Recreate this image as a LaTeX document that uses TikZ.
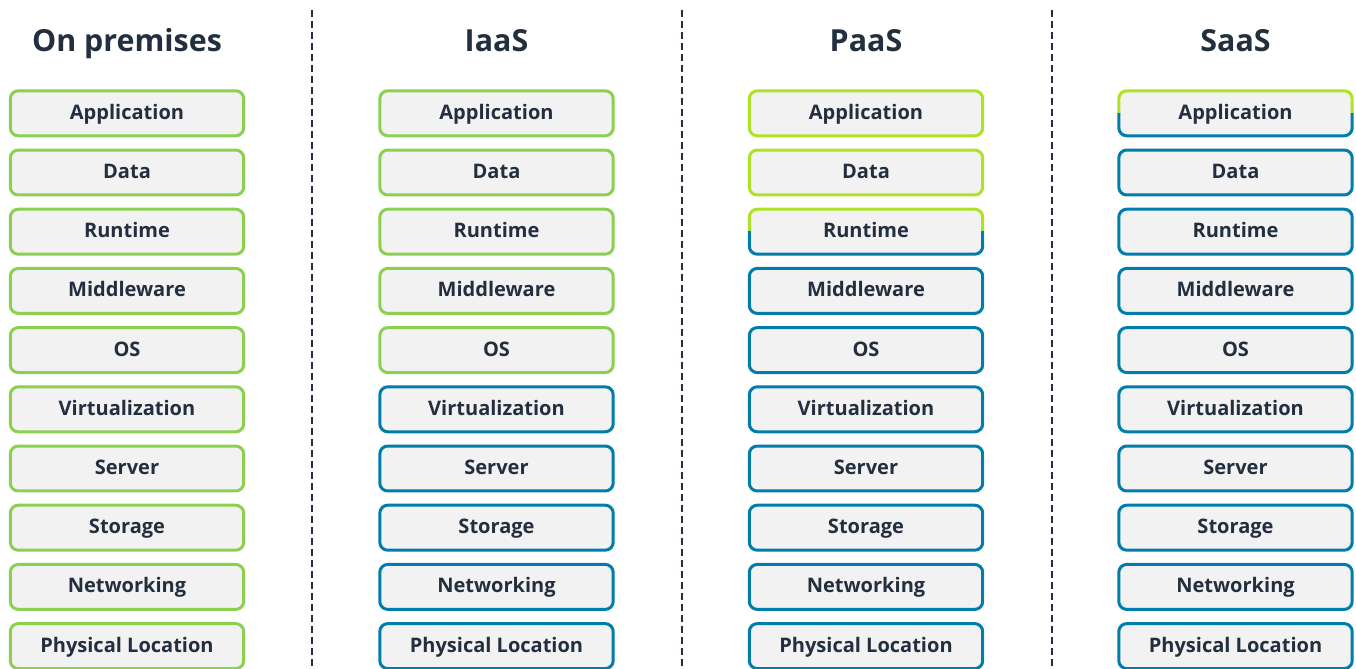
\documentclass[tikz,border=0pt]{standalone}
\usepackage{fontspec}
\setsansfont{Open Sans}
\usepackage{tikz}
\usepackage{xcolor}
\usetikzlibrary{positioning, calc}
\definecolor{cmgreen}{RGB}{140, 208, 80}
\definecolor{cmlime}{RGB}{174, 226, 36}
\definecolor{cmblue}{RGB}{0, 125, 170}
\definecolor{cmgray}{RGB}{242, 242, 242}
\definecolor{cmink}{RGB}{35, 47, 62}
\tikzset{
    layer/.style={rectangle, rounded corners=0.16cm, fill=cmgray, line width=0.06cm, outer sep=0pt,
        minimum width=4.67cm, minimum height=0.9cm, text height=9.3pt, text depth=2.5pt,
        text=cmink, font=\sffamily\bfseries\fontsize{11.4}{13}\selectfont},
    ownlayer/.style={layer, draw=cmgreen},
    userlayer/.style={layer, draw=cmlime},
    vendorlayer/.style={layer, draw=cmblue},
    splitlayer/.style={layer},
    coltitle/.style={anchor=base, text=cmink, font=\sffamily\bfseries\fontsize{17.3}{20}\selectfont},
    colsep/.style={draw=cmink, line width=0.055cm, dash pattern=on 0.15cm off 0.07cm}
}

\begin{document}
\begin{tikzpicture}[x=0.02cm, y=-0.02cm]
    \useasboundingbox (0,0) rectangle (1356,669);

    % column titles
    \node[coltitle] (tprem) at (127,51.5) {On premises};
    \node[coltitle] (tiaas) at (496.5,51.5) {IaaS};
    \node[coltitle] (tpaas) at (866,51.5) {PaaS};
    \node[coltitle] (tsaas) at (1235.5,51.5) {SaaS};

    % separators
    \coordinate (sep1top) at (312,10);
    \coordinate (sep1bot) at (312,669);
    \coordinate (sep2top) at (682,10);
    \coordinate (sep2bot) at (682,669);
    \coordinate (sep3top) at (1052,10);
    \coordinate (sep3bot) at (1052,669);
    \draw[colsep] (sep1top) -- (sep1bot);
    \draw[colsep] (sep2top) -- (sep2bot);
    \draw[colsep] (sep3top) -- (sep3bot);

    % on premises
    \node[ownlayer] (prem1) at (127,113.3) {Application};
    \node[ownlayer] (prem2) at (127,172.5) {Data};
    \node[ownlayer] (prem3) at (127,231.7) {Runtime};
    \node[ownlayer] (prem4) at (127,290.9) {Middleware};
    \node[ownlayer] (prem5) at (127,350.1) {OS};
    \node[ownlayer] (prem6) at (127,409.3) {Virtualization};
    \node[ownlayer] (prem7) at (127,468.5) {Server};
    \node[ownlayer] (prem8) at (127,527.7) {Storage};
    \node[ownlayer] (prem9) at (127,586.9) {Networking};
    \node[ownlayer] (prem10) at (127,646.1) {Physical Location};

    % iaas
    \node[ownlayer] (iaas1) at (496.5,113.3) {Application};
    \node[ownlayer] (iaas2) at (496.5,172.5) {Data};
    \node[ownlayer] (iaas3) at (496.5,231.7) {Runtime};
    \node[ownlayer] (iaas4) at (496.5,290.9) {Middleware};
    \node[ownlayer] (iaas5) at (496.5,350.1) {OS};
    \node[vendorlayer] (iaas6) at (496.5,409.3) {Virtualization};
    \node[vendorlayer] (iaas7) at (496.5,468.5) {Server};
    \node[vendorlayer] (iaas8) at (496.5,527.7) {Storage};
    \node[vendorlayer] (iaas9) at (496.5,586.9) {Networking};
    \node[vendorlayer] (iaas10) at (496.5,646.1) {Physical Location};

    % paas
    \node[userlayer] (paas1) at (866,113.3) {Application};
    \node[userlayer] (paas2) at (866,172.5) {Data};
    \node[splitlayer] (paas3) at (866,231.7) {Runtime};
    \node[vendorlayer] (paas4) at (866,290.9) {Middleware};
    \node[vendorlayer] (paas5) at (866,350.1) {OS};
    \node[vendorlayer] (paas6) at (866,409.3) {Virtualization};
    \node[vendorlayer] (paas7) at (866,468.5) {Server};
    \node[vendorlayer] (paas8) at (866,527.7) {Storage};
    \node[vendorlayer] (paas9) at (866,586.9) {Networking};
    \node[vendorlayer] (paas10) at (866,646.1) {Physical Location};

    % saas
    \node[splitlayer] (saas1) at (1235.5,113.3) {Application};
    \node[vendorlayer] (saas2) at (1235.5,172.5) {Data};
    \node[vendorlayer] (saas3) at (1235.5,231.7) {Runtime};
    \node[vendorlayer] (saas4) at (1235.5,290.9) {Middleware};
    \node[vendorlayer] (saas5) at (1235.5,350.1) {OS};
    \node[vendorlayer] (saas6) at (1235.5,409.3) {Virtualization};
    \node[vendorlayer] (saas7) at (1235.5,468.5) {Server};
    \node[vendorlayer] (saas8) at (1235.5,527.7) {Storage};
    \node[vendorlayer] (saas9) at (1235.5,586.9) {Networking};
    \node[vendorlayer] (saas10) at (1235.5,646.1) {Physical Location};

    % two-tone borders
    \begin{scope}
        \clip ($(paas3.north west)+(-10,-10)$) rectangle ($(paas3.east)+(10,0)$);
        \draw[cmlime, line width=0.06cm, rounded corners=0.16cm] (paas3.north west) rectangle (paas3.south east);
    \end{scope}
    \begin{scope}
        \clip ($(paas3.west)+(-10,0)$) rectangle ($(paas3.south east)+(10,10)$);
        \draw[cmblue, line width=0.06cm, rounded corners=0.16cm] (paas3.north west) rectangle (paas3.south east);
    \end{scope}
    \begin{scope}
        \clip ($(saas1.north west)+(-10,-10)$) rectangle ($(saas1.east)+(10,0)$);
        \draw[cmlime, line width=0.06cm, rounded corners=0.16cm] (saas1.north west) rectangle (saas1.south east);
    \end{scope}
    \begin{scope}
        \clip ($(saas1.west)+(-10,0)$) rectangle ($(saas1.south east)+(10,10)$);
        \draw[cmblue, line width=0.06cm, rounded corners=0.16cm] (saas1.north west) rectangle (saas1.south east);
    \end{scope}
\end{tikzpicture}
\end{document}
